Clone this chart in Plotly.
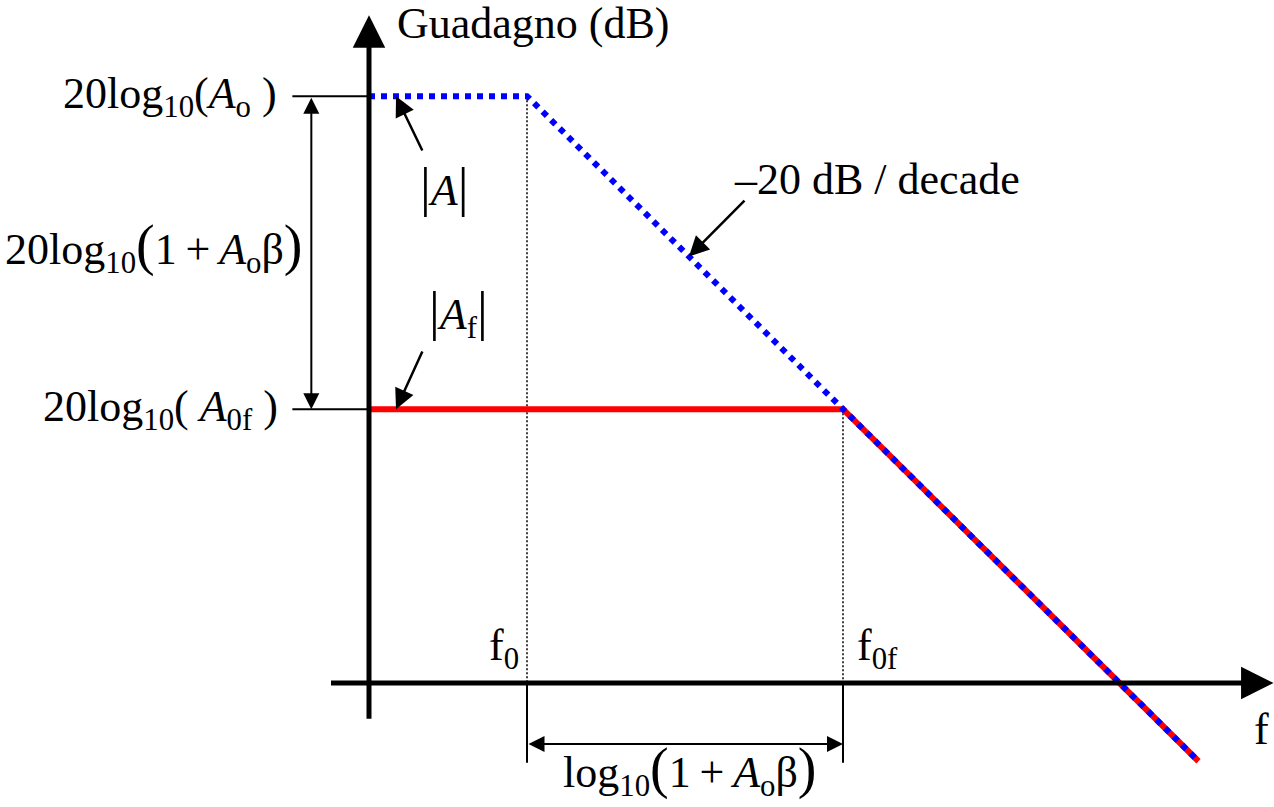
import plotly.graph_objects as go

# Asymptotic Bode magnitude: x in decades relative to f0, y in dB
f_open = [-2.0, 0.0, 8.5]          # |A|  (open loop)
g_open = [150.0, 150.0, -20.0]
f_closed = [-2.0, 4.0, 8.5]        # |Af| (closed loop)
g_closed = [70.0, 70.0, -20.0]

f0 = 0.0
f0f = 4.0
A0_dB = 150.0
A0f_dB = 70.0

# drawing extents
yaxis_x = -2.0
yaxis_span = [-9.5, 170.7]
xaxis_span = [-2.5, 9.45]
dim_x = -2.73          # vertical dimension line
ext_left = -2.97       # left end of level extension lines
dim_y = -15.6          # horizontal dimension line
ext_bottom = -20.4

SERIF = "Liberation Serif, Times New Roman, serif"
FS = 44

fig = go.Figure()

# extension lines from the level labels to the gain axis
for lvl in (A0_dB, A0f_dB):
    fig.add_trace(go.Scatter(x=[ext_left, yaxis_x], y=[lvl, lvl], mode="lines",
                             line=dict(color="black", width=2), hoverinfo="skip"))

# dotted drop lines at the break frequencies
fig.add_trace(go.Scatter(x=[f0, f0], y=[A0_dB, 0], mode="lines",
                         line=dict(color="black", width=1.5, dash="2px,2px"), hoverinfo="skip"))
fig.add_trace(go.Scatter(x=[f0f, f0f], y=[A0f_dB, 0], mode="lines",
                         line=dict(color="black", width=1.5, dash="2px,2px"), hoverinfo="skip"))

# solid extension lines below the frequency axis
for fx in (f0, f0f):
    fig.add_trace(go.Scatter(x=[fx, fx], y=[0, ext_bottom], mode="lines",
                             line=dict(color="black", width=2), hoverinfo="skip"))

# closed-loop response (red) and open-loop response (blue dots) on top
fig.add_trace(go.Scatter(x=f_closed, y=g_closed, mode="lines",
                         line=dict(color="#ff0000", width=6), hoverinfo="skip"))
fig.add_trace(go.Scatter(x=f_open, y=g_open, mode="lines",
                         line=dict(color="#0000ff", width=6, dash="6px,6px"), hoverinfo="skip"))


def arrow(x, y, ax, ay, width, head, size, both=False):
    fig.add_annotation(x=x, y=y, ax=ax, ay=ay, xref="x", yref="y", axref="x", ayref="y",
                       text="", showarrow=True, arrowhead=head, arrowsize=size,
                       arrowwidth=width, arrowcolor="black",
                       arrowside="end+start" if both else "end",
                       startarrowhead=head, startarrowsize=size)


# axes
arrow(yaxis_x, yaxis_span[1], yaxis_x, yaxis_span[0], 5, 2, 1.3)
arrow(xaxis_span[1], 0, xaxis_span[0], 0, 5, 2, 1.3)

# dimension arrows
arrow(dim_x, A0f_dB, dim_x, A0_dB, 2, 2, 1.6, both=True)
arrow(f0f, dim_y, f0, dim_y, 2, 2, 1.6, both=True)

# pointers
arrow(-1.658, A0_dB, -1.316, 135.7, 2.5, 2, 1.6)
arrow(-1.658, A0f_dB, -1.316, 85.1, 2.5, 2, 1.6)
arrow(2.05, A0_dB - 20 * 2.05, 2.772, 123.7, 2.5, 2, 1.6)


def label(x, y, text, xanchor="center", yanchor="middle", size=FS):
    fig.add_annotation(x=x, y=y, xref="x", yref="y", text=text, showarrow=False,
                       xanchor=xanchor, yanchor=yanchor,
                       font=dict(family=SERIF, size=size, color="black"))


BIGL = "<span style='font-size:56px'>(</span>"
BIGR = "<span style='font-size:56px'>)</span>"
BAR = "<span style='font-size:54px'>|</span>"
PLUS = "\u2009+\u2009"

label(-1.67, 168.5, "Guadagno (dB)", xanchor="left")
label(-3.14, A0_dB, "20log<sub>10</sub>(<i>A</i><sub>o</sub> )", xanchor="right")
label(-4.73, 111.4, "20log<sub>10</sub>" + BIGL + "1" + PLUS + "<i>A</i><sub>o</sub>β" + BIGR)
label(-3.13, A0f_dB, "20log<sub>10</sub>( <i>A</i><sub>0f</sub> )", xanchor="right")
label(-1.04, 126.8, BAR + "<i>A</i>" + BAR)
label(-0.867, 94.6, BAR + "<i>A</i><sub>f</sub>" + BAR)
label(2.595, 128.6, "–20 dB / decade", xanchor="left")
label(-0.506, 8.9, "f<sub>0</sub>", xanchor="left")
label(4.15, 8.9, "f<sub>0f</sub>", xanchor="left")
label(9.418, -12.0, "f", xanchor="right")
label(2.057, -22.2, "log<sub>10</sub>" + BIGL + "1" + PLUS + "<i>A</i><sub>o</sub>β" + BIGR)

fig.update_layout(
    width=1274, height=807,
    margin=dict(l=0, r=0, t=0, b=0),
    paper_bgcolor="white", plot_bgcolor="white",
    showlegend=False,
    xaxis=dict(range=[-527 / 79, (1274 - 527) / 79], visible=False, fixedrange=True),
    yaxis=dict(range=[(683 - 807) / 3.9125, 683 / 3.9125], visible=False, fixedrange=True),
)

fig.write_html("out.html", config={"displayModeBar": False})
